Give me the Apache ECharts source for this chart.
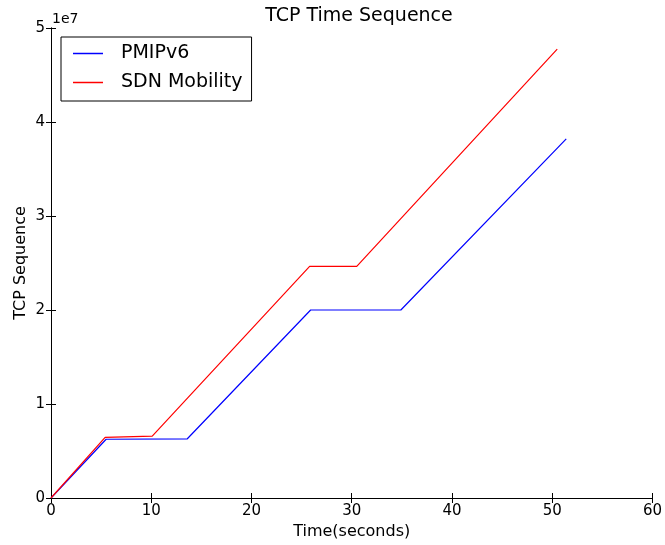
<!DOCTYPE html>
<html>
<head>
<meta charset="utf-8">
<script src="https://cdn.jsdelivr.net/npm/echarts@6/dist/echarts.min.js"></script>
<style>
  html, body { margin: 0; padding: 0; background: #fff; }
  #chart { width: 665px; height: 545px; }
</style>
</head>
<body>
<div id="chart"></div>
<script>
// data (time in seconds, sequence in bytes)
const pmipTime = [0, 5.5, 13.6, 25.9, 34.9, 51.4];
const pmipSeq = [0, 6.25e6, 6.3e6, 2.0e7, 2.0e7, 3.82e7];
const sdnTime = [0, 5.4, 10.1, 25.8, 30.5, 50.5];
const sdnSeq = [0, 6.45e6, 6.58e6, 2.465e7, 2.465e7, 4.775e7];
const seriesNames = ['PMIPv6', 'SDN Mobility'];

const font = 'DejaVu Sans';
const pairs = (xs, ys) => xs.map((x, i) => [x, ys[i]]);

const chart = echarts.init(document.getElementById('chart'));

const frameX = {
    type: 'value', min: 0, max: 60, interval: 10,
    axisLine: { show: true, lineStyle: { color: '#000', width: 1 } },
    axisTick: { show: true, inside: true, length: 5, lineStyle: { color: '#000' } },
    splitLine: { show: false },
};
const frameY = {
    type: 'value', min: 0, max: 5e7, interval: 1e7,
    axisLine: { show: true, lineStyle: { color: '#000', width: 1 } },
    axisTick: { show: true, inside: true, length: 5, lineStyle: { color: '#000' } },
    splitLine: { show: false },
};

chart.setOption({
    animation: false,
    textStyle: { fontFamily: font },
    title: {
        text: 'TCP Time Sequence',
        left: 354, top: 2, textAlign: 'center',
        textStyle: { fontFamily: font, fontSize: 19, fontWeight: 'normal', color: '#000' },
    },
    graphic: [{
        type: 'text', left: 52, top: 12,
        style: { text: '1e7', font: '14px "DejaVu Sans"', fill: '#000' },
    }],
    legend: {
        data: seriesNames,
        orient: 'vertical',
        left: 61, top: 37,
        padding: [7, 9, 9, 12],
        itemGap: 10,
        itemWidth: 30, itemHeight: 1.5,
        icon: 'rect',
        borderColor: '#000', borderWidth: 1,
        textStyle: { fontFamily: font, fontSize: 19, color: '#000', padding: [0, 0, 0, 13] },
    },
    grid: { left: 51, right: 9, top: 28, bottom: 46, containLabel: false },
    xAxis: [
        Object.assign({}, frameX, {
            position: 'bottom',
            name: 'Time(seconds)', nameLocation: 'middle', nameGap: 26,
            nameMoveOverlap: false,
            nameTextStyle: { fontFamily: font, fontSize: 16, color: '#000' },
            axisLabel: { fontFamily: font, fontSize: 15, color: '#000', margin: 6 },
        }),
        Object.assign({}, frameX, { position: 'top', axisLabel: { show: false } }),
    ],
    yAxis: [
        Object.assign({}, frameY, {
            position: 'left',
            name: 'TCP Sequence', nameLocation: 'middle', nameGap: 22,
            nameMoveOverlap: false,
            nameTextStyle: { fontFamily: font, fontSize: 16, color: '#000' },
            axisLabel: {
                fontFamily: font, fontSize: 15, color: '#000', margin: 6,
                formatter: v => String(Math.round(v / 1e7)),
            },
        }),
        Object.assign({}, frameY, { position: 'right', axisLabel: { show: false } }),
    ],
    series: [
        {
            name: seriesNames[0], type: 'line', symbol: 'none',
            data: pairs(pmipTime, pmipSeq),
            lineStyle: { color: '#0000ff', width: 1.2 },
            itemStyle: { color: '#0000ff' },
        },
        {
            name: seriesNames[1], type: 'line', symbol: 'none',
            data: pairs(sdnTime, sdnSeq),
            lineStyle: { color: '#ff0000', width: 1.2 },
            itemStyle: { color: '#ff0000' },
        },
    ],
});
</script>
</body>
</html>
